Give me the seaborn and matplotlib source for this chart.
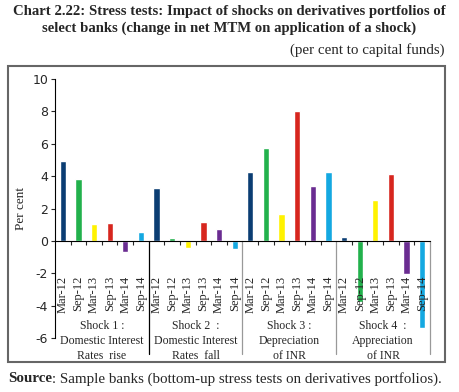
import matplotlib
matplotlib.use("Agg")
import matplotlib.pyplot as plt
from matplotlib.patches import Rectangle
import pandas as pd
import seaborn as sns

# data (per cent to capital funds)
periods = ["Mar-12", "Sep-12", "Mar-13", "Sep-13", "Mar-14", "Sep-14"]
shock_labels = ["Shock 1 :\nDomestic Interest\nRates  rise",
                "Shock 2  :\nDomestic Interest\nRates  fall",
                "Shock 3 :\nDepreciation\nof INR",
                "Shock 4  :\nAppreciation\nof INR"]
shock1 = [4.95, 3.83, 1.05, 1.13, -0.66, 0.57]
shock2 = [3.27, 0.20, -0.41, 1.17, 0.74, -0.53]
shock3 = [4.24, 5.72, 1.67, 8.00, 3.37, 4.24]
shock4 = [0.25, -3.80, 2.53, 4.13, -2.06, -5.41]
colors = ["#0B3D73", "#22B14C", "#FFF200", "#D7261E", "#6A2C91", "#14A8E1"]

rows = []
for g, vals in enumerate([shock1, shock2, shock3, shock4]):
    for i, v in enumerate(vals):
        rows.append({"slot": g * 6 + i, "period": periods[i], "value": v})
df = pd.DataFrame(rows)

sns.set_style("white")
plt.rcParams["axes.unicode_minus"] = False
serif = ["Liberation Serif", "DejaVu Serif"]

fig = plt.figure(figsize=(4.59, 3.92), dpi=100)
ax = fig.add_axes([55 / 459, 1 - 338 / 392, 375 / 459, 259 / 392])

sns.barplot(data=df, x="slot", y="value", hue="period", hue_order=periods,
            palette=colors, dodge=False, width=0.4, legend=False, ax=ax,
            saturation=1)

ax.set_xlim(-0.5, 23.5)
ax.set_ylim(-6, 10)
ax.set_yticks(range(-6, 11, 2))
ax.tick_params(axis="y", labelsize=9, length=3, width=0.8, direction="out",
               left=True, pad=2)
for s in ["top", "right"]:
    ax.spines[s].set_visible(False)
ax.spines["bottom"].set_position(("data", 0))
ax.spines["bottom"].set_color("black")
ax.spines["left"].set_color("black")
ax.spines["left"].set_linewidth(0.8)
ax.spines["bottom"].set_linewidth(0.8)
ax.set_xticks([k + 0.5 for k in range(23) if (k + 1) % 6 != 0])
ax.set_xticklabels([])
ax.tick_params(axis="x", length=3, width=0.8, direction="out", bottom=True)
ax.set_xlabel("")
ax.set_ylabel("Per cent", family=serif, fontsize=9.5, labelpad=4)

# period labels under the zero line
for k in range(24):
    ax.text(k, -2.15, periods[k % 6], rotation=90, ha="center", va="top",
            family=serif, fontsize=9, clip_on=False)

# group labels and separators
for g in range(4):
    ax.text(g * 6 + 2.5, -4.9, shock_labels[g], ha="center", va="top",
            family=serif, fontsize=8.5, linespacing=1.3, clip_on=False)
    ax.plot([g * 6 + 5.5] * 2, [0, -7.0], color="black" if g == 0 else "#999999",
            lw=0.9, clip_on=False)

# outer frame
fig.patches.append(Rectangle((8 / 459, 1 - 362 / 392), 437 / 459, 296 / 392,
                             transform=fig.transFigure, fill=False,
                             edgecolor="#666666", lw=1.5))

fig.text(0.5, 1 - 5 / 392,
         "Chart 2.22: Stress tests: Impact of shocks on derivatives portfolios of\n"
         "select banks (change in net MTM on application of a shock)",
         ha="center", va="top", family=serif, fontweight="bold", fontsize=10.6,
         linespacing=1.35)
fig.text(445 / 459, 1 - 50 / 392, "(per cent to capital funds)", ha="right",
         va="center", family=serif, fontsize=10.8)

src = fig.text(8 / 459, 1 - 379 / 392, "Source", ha="left", va="center",
               family=serif, fontweight="bold", fontsize=10.8)
fig.canvas.draw()
bb = src.get_window_extent()
fig.text(bb.x1 / fig.bbox.width, 1 - 379 / 392,
         ": Sample banks (bottom-up stress tests on derivatives portfolios).",
         ha="left", va="center", family=serif, fontsize=10.8)

fig.savefig("out.png", dpi=100)
